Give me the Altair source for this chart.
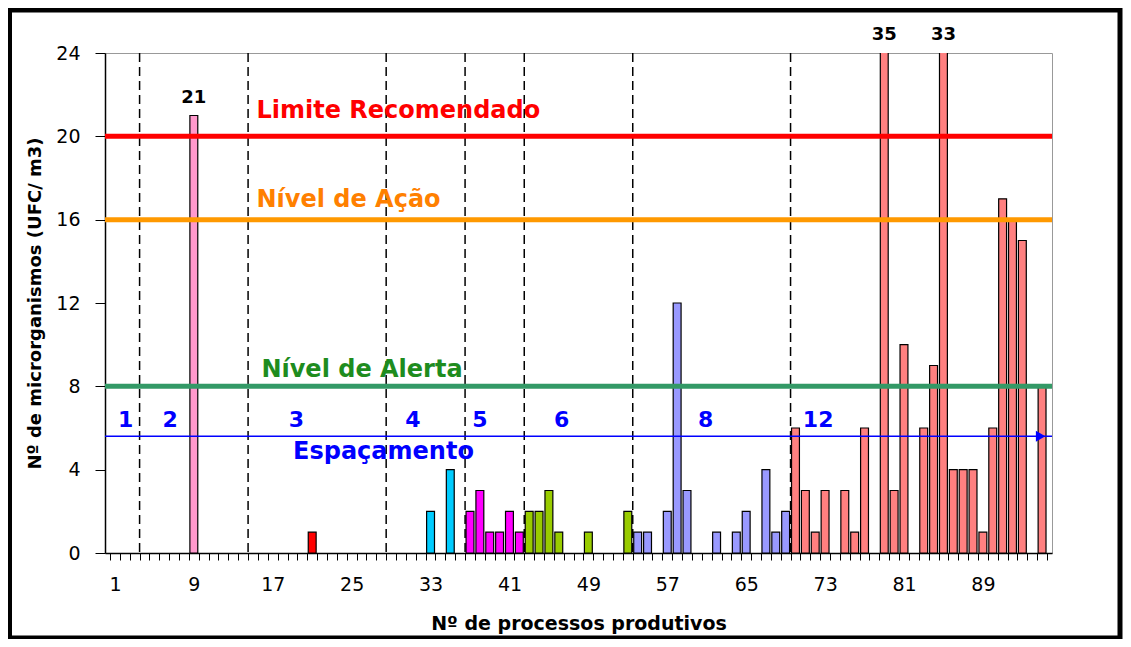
import altair as alt
import pandas as pd

# ---------------- data ----------------
categories = list(range(1, 96))
counts = [0, 0, 0, 0, 0, 0, 0, 0, 21, 0,
          0, 0, 0, 0, 0, 0, 0, 0, 0, 0,
          1, 0, 0, 0, 0, 0, 0, 0, 0, 0,
          0, 0, 2, 0, 4, 0, 2, 3, 1, 1,
          2, 1, 2, 2, 3, 1, 0, 0, 1, 0,
          0, 0, 2, 1, 1, 0, 2, 12, 3, 0,
          0, 1, 0, 1, 2, 0, 4, 1, 2, 6,
          3, 1, 3, 0, 3, 1, 6, 0, 35, 3,
          10, 0, 6, 9, 33, 4, 4, 4, 1, 6,
          17, 16, 15, 0, 8]

group_labels = ["1", "2", "3", "4", "5", "6", "8", "12"]
group_starts = [1, 4, 15, 29, 37, 43, 54, 70]
group_colors = ["#999999", "#FF99CC", "#FF0000", "#00CCFF", "#FF00FF",
                "#99CC00", "#9999FF", "#FF8080"]

threshold_names = ["Limite Recomendado", "Nível de Ação", "Nível de Alerta"]
threshold_levels = [20, 16, 8]
threshold_line_colors = ["#FF0000", "#FF9900", "#339966"]
threshold_text_colors = ["#FF0000", "#FF8000", "#1E8C1E"]

spacing_name = "Espaçamento"
spacing_level = 5.6

x_tick_labels = [1, 9, 17, 25, 33, 41, 49, 57, 65, 73, 81, 89]
y_ticks = [0, 4, 8, 12, 16, 20, 24]

# annotation placement (data units)
text_x = [15.35, 15.35, 15.85]
text_y = [21.2, 16.95, 8.8]
spacing_text_x, spacing_text_y = 19.06, 4.85
group_text_x = [2.1, 6.6, 19.4, 31.2, 38.0, 46.3, 60.9, 72.3]
group_text_y = 6.4
arrow_x = 94.85

# ---------------- tables ----------------
def group_of(c):
    idx = max(i for i, s in enumerate(group_starts) if s <= c)
    return group_labels[idx]

df = pd.DataFrame({"cat": categories, "v": counts})
df["grupo"] = [group_of(c) for c in categories]
bars_df = df[df["v"] > 0].reset_index(drop=True)

bounds_df = pd.DataFrame({"b": [s - 0.5 for s in group_starts[1:]]})
thr_df = pd.DataFrame({"name": threshold_names, "level": threshold_levels,
                       "line": threshold_line_colors, "tcol": threshold_text_colors,
                       "tx": text_x, "ty": text_y})
spacing_df = pd.DataFrame({"name": [spacing_name], "level": [spacing_level],
                           "tx": [spacing_text_x], "ty": [spacing_text_y], "ax": [arrow_x]})
groups_df = pd.DataFrame({"g": group_labels, "gx": group_text_x, "gy": [group_text_y] * len(group_labels)})

X = alt.Scale(domain=[0.5, 95.5], nice=False, zero=False)
Y = alt.Scale(domain=[0, 24], nice=False, zero=True)

boundary_values = [k + 0.5 for k in range(0, 96)]
first_label = x_tick_labels[0]
step = x_tick_labels[1] - x_tick_labels[0]

x_axis = alt.Axis(
    values=boundary_values,
    labelExpr=f"((datum.value + 0.5 - {first_label}) % {step} == 0) && (datum.value + 0.5 <= {x_tick_labels[-1]}) ? format(datum.value + 0.5, 'd') : ''",
    labelOffset=5, labelFlush=False, labelOverlap=False, labelBound=False,
    tickSize=7, labelPadding=15,
    title="Nº de processos produtivos", titleFontSize=19, titlePadding=20, grid=False,
)
y_axis = alt.Axis(
    values=y_ticks, tickSize=10, labelPadding=15,
    title="Nº de microrganismos (UFC/ m3)", titleFontSize=18, titlePadding=11, grid=False,
)


def xq(field):
    return alt.X(field, scale=X, axis=x_axis)


def yq(field):
    return alt.Y(field, scale=Y, axis=y_axis)


bars = alt.Chart(bars_df).transform_calculate(
    x0="datum.cat - 0.4", x1="datum.cat + 0.4"
).mark_bar(stroke="black", strokeWidth=1.2, clip=True, orient="vertical").encode(
    x=xq("x0:Q"),
    x2="x1:Q",
    y=alt.Y("v:Q", scale=Y, axis=y_axis, stack=None),
    y2=alt.datum(0),
    color=alt.Color("grupo:N", scale=alt.Scale(domain=group_labels, range=group_colors), legend=None),
)

vrules = alt.Chart(bounds_df).mark_rule(
    strokeDash=[9, 5], color="black", strokeWidth=1.5
).encode(x=xq("b:Q"))

hrules = alt.Chart(thr_df).mark_rule(strokeWidth=5).encode(
    y=yq("level:Q"),
    color=alt.Color("line:N", scale=None),
)

spacing_rule = alt.Chart(spacing_df).mark_rule(color="#0000FF", strokeWidth=1.5).encode(
    y=yq("level:Q")
)
arrow = alt.Chart(spacing_df).mark_point(
    shape="triangle-right", filled=True, size=120, color="#0000FF", opacity=1
).encode(x=xq("ax:Q"), y=yq("level:Q"))

thr_text = alt.Chart(thr_df).mark_text(
    align="left", baseline="middle", font="DejaVu Sans", fontWeight="bold", fontSize=24
).encode(
    x=xq("tx:Q"), y=yq("ty:Q"),
    text="name:N", color=alt.Color("tcol:N", scale=None),
)
spacing_text = alt.Chart(spacing_df).mark_text(
    align="left", baseline="middle", font="DejaVu Sans", fontWeight="bold", fontSize=24, color="#0000FF"
).encode(x=xq("tx:Q"), y=yq("ty:Q"), text="name:N")

group_text = alt.Chart(groups_df).mark_text(
    align="center", baseline="middle", font="DejaVu Sans", fontWeight="bold", fontSize=22, color="#0000FF"
).encode(x=xq("gx:Q"), y=yq("gy:Q"), text="g:N")

value_labels = alt.Chart(bars_df).transform_filter("datum.v > 20").transform_calculate(
    ly="min(datum.v, 24)"
).mark_text(
    baseline="bottom", dy=-9, font="DejaVu Sans", fontWeight="bold", fontSize=18, color="black"
).encode(x=xq("cat:Q"), y=yq("ly:Q"), text="v:Q")

frame = alt.Chart(pd.DataFrame({"f": [0]})).mark_rect(
    fill="white", fillOpacity=0, stroke="black", strokeWidth=5
).encode(x=alt.value(-95.5), x2=alt.value(1015), y=alt.value(-43), y2=alt.value(585))

chart = alt.layer(
    bars, vrules, hrules, spacing_rule, arrow, thr_text, spacing_text, group_text, value_labels, frame
).properties(
    width=947, height=500,
    autosize=alt.AutoSizeParams(type="none"),
    padding={"left": 97, "top": 45, "right": 71, "bottom": 86},
    background="white",
).configure_view(
    stroke="#999999", strokeWidth=1
).configure_axis(
    labelFont="DejaVu Sans", labelFontSize=19, labelColor="black",
    titleFont="DejaVu Sans", titleFontWeight="bold", titleColor="black",
    tickColor="black", tickWidth=1, domainColor="black", domainWidth=1.5,
)

chart.save("out.html", embed_options={"renderer": "svg", "actions": False})
